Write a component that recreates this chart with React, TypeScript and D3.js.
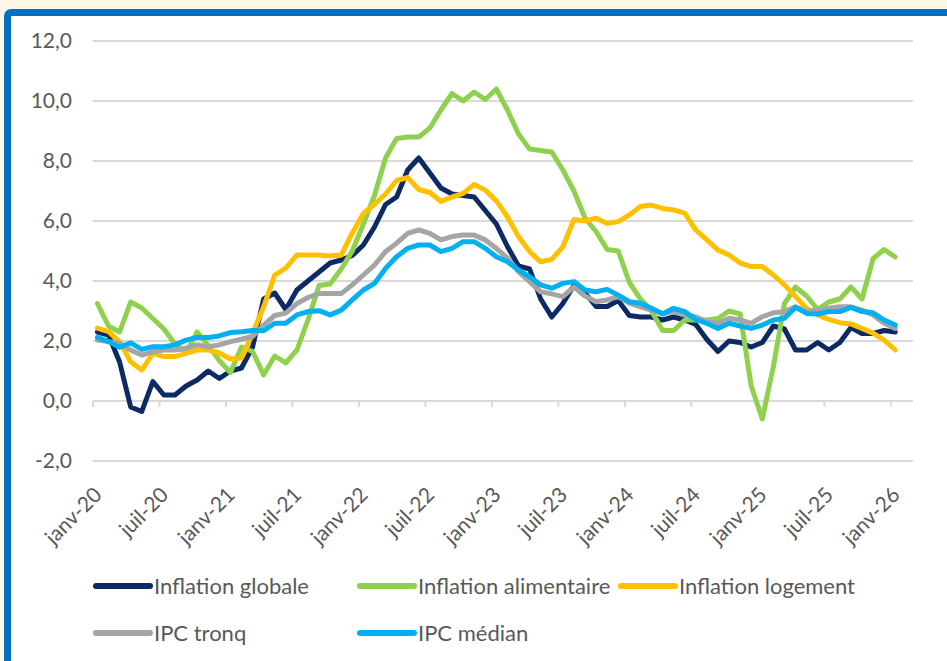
import * as d3 from 'd3';

const monthCount = 73; // janv-20 .. janv-26
const tickLabels = ['janv-20', 'juil-20', 'janv-21', 'juil-21', 'janv-22', 'juil-22', 'janv-23', 'juil-23', 'janv-24', 'juil-24', 'janv-25', 'juil-25', 'janv-26'];
const yTicks = [-2, 0, 2, 4, 6, 8, 10, 12];

const globale = [2.3, 2.2, 1.3, -0.2, -0.35, 0.65, 0.2, 0.2, 0.5, 0.7, 1.0, 0.75, 1.0, 1.1, 1.8, 3.4, 3.6, 3.05, 3.7, 4.0, 4.3, 4.6, 4.7, 4.85, 5.2, 5.8, 6.55, 6.8, 7.7, 8.1, 7.6, 7.1, 6.9, 6.85, 6.8, 6.35, 5.9, 5.15, 4.5, 4.4, 3.4, 2.8, 3.25, 3.85, 3.6, 3.15, 3.15, 3.35, 2.85, 2.8, 2.8, 2.7, 2.8, 2.7, 2.55, 2.05, 1.65, 2.0, 1.95, 1.8, 1.95, 2.5, 2.4, 1.7, 1.7, 1.95, 1.7, 1.95, 2.45, 2.25, 2.25, 2.35, 2.3];
const alimentaire = [3.25, 2.5, 2.3, 3.3, 3.1, 2.75, 2.4, 1.9, 1.6, 2.3, 1.85, 1.35, 0.95, 1.8, 1.65, 0.87, 1.5, 1.27, 1.7, 2.7, 3.85, 3.9, 4.4, 5.0, 5.9, 6.85, 8.1, 8.75, 8.8, 8.8, 9.1, 9.7, 10.25, 10.0, 10.3, 10.05, 10.4, 9.7, 8.9, 8.4, 8.35, 8.3, 7.7, 7.0, 6.1, 5.65, 5.05, 5.0, 3.95, 3.4, 3.0, 2.35, 2.35, 2.7, 2.7, 2.7, 2.75, 3.0, 2.9, 0.5, -0.6, 1.15, 3.25, 3.8, 3.5, 3.05, 3.3, 3.4, 3.8, 3.4, 4.75, 5.05, 4.8];
const logement = [2.43, 2.31, 1.98, 1.31, 1.03, 1.59, 1.48, 1.48, 1.59, 1.7, 1.7, 1.6, 1.4, 1.43, 2.25, 3.14, 4.2, 4.43, 4.87, 4.87, 4.87, 4.83, 4.87, 5.6, 6.25, 6.55, 6.9, 7.35, 7.45, 7.05, 6.95, 6.65, 6.8, 6.92, 7.22, 7.03, 6.67, 6.14, 5.48, 4.98, 4.64, 4.72, 5.14, 6.05, 6.0, 6.09, 5.92, 5.98, 6.2, 6.48, 6.53, 6.42, 6.37, 6.26, 5.7, 5.37, 5.03, 4.87, 4.6, 4.48, 4.48, 4.2, 3.87, 3.48, 3.09, 2.87, 2.72, 2.61, 2.57, 2.42, 2.26, 2.03, 1.7];
const tronq = [2.03, 1.98, 1.92, 1.7, 1.53, 1.64, 1.7, 1.7, 1.76, 1.87, 1.81, 1.87, 1.98, 2.06, 2.15, 2.53, 2.85, 2.93, 3.25, 3.45, 3.58, 3.58, 3.58, 3.87, 4.2, 4.53, 4.98, 5.26, 5.59, 5.7, 5.59, 5.37, 5.48, 5.53, 5.53, 5.37, 5.09, 4.76, 4.31, 3.98, 3.64, 3.57, 3.48, 3.8, 3.5, 3.31, 3.37, 3.48, 3.26, 3.14, 3.03, 2.92, 2.97, 2.87, 2.81, 2.64, 2.59, 2.76, 2.7, 2.59, 2.81, 2.94, 2.98, 3.14, 2.98, 3.03, 3.09, 3.14, 3.14, 3.03, 2.87, 2.59, 2.42];
const median = [2.12, 1.98, 1.79, 1.94, 1.72, 1.81, 1.81, 1.87, 2.03, 2.12, 2.12, 2.17, 2.28, 2.31, 2.35, 2.34, 2.59, 2.59, 2.87, 2.98, 3.01, 2.87, 3.03, 3.37, 3.7, 3.92, 4.42, 4.81, 5.09, 5.2, 5.2, 4.98, 5.09, 5.31, 5.31, 5.09, 4.81, 4.64, 4.37, 4.14, 3.87, 3.76, 3.92, 3.98, 3.7, 3.64, 3.72, 3.53, 3.31, 3.26, 3.09, 2.9, 3.09, 2.98, 2.72, 2.59, 2.42, 2.59, 2.5, 2.42, 2.53, 2.7, 2.76, 3.12, 2.92, 2.9, 2.98, 2.98, 3.12, 2.98, 2.94, 2.7, 2.53];

const series = [
  { name: 'Inflation globale', values: globale, color: '#0C2A64' },
  { name: 'Inflation alimentaire', values: alimentaire, color: '#8FD14F' },
  { name: 'Inflation logement', values: logement, color: '#FFC000' },
  { name: 'IPC tronq', values: tronq, color: '#A5A5A5' },
  { name: 'IPC médian', values: median, color: '#00B0F0' },
];

const W = 947;
const H = 661;
const FONT = 'Lato, "Open Sans", sans-serif';
const TXT = '#595959';

export default function App() {
  const x = d3.scaleLinear().domain([0, 74]).range([93, 913]);
  const y = d3.scaleLinear().domain([-2, 12]).range([461, 41]);

  const line = d3
    .line<number>()
    .x((_, i) => x(i + 0.4))
    .y((d) => y(d))
    .curve(d3.curveLinear);

  // legend: 3 per row
  const legendCols = [96, 360, 621];
  const legendRows = [586, 633];

  return (
    <div style={{ position: 'absolute', left: 0, top: 0 }}>
      <svg width={W} height={H} style={{ display: 'block', fontFamily: FONT }}>
        <rect x={0} y={0} width={W} height={H} fill="#FFF7E8" />
        <rect x={4} y={9} width={W + 40} height={H + 40} rx={7} fill="#0070C0" />
        <rect x={11} y={16} width={W + 40} height={H + 40} fill="#FFFFFF" />

        {/* gridlines */}
        {yTicks.map((t) => (
          <line key={t} x1={x(0)} x2={x(74)} y1={y(t)} y2={y(t)} stroke="#D9D9D9" strokeWidth={2} />
        ))}
        {/* tick marks on the 0 axis */}
        {tickLabels.map((_, k) => (
          <line key={k} x1={x(k * 6)} x2={x(k * 6)} y1={y(0)} y2={y(0) + 6} stroke="#D9D9D9" strokeWidth={2} />
        ))}

        {/* y labels */}
        {yTicks.map((t) => (
          <text key={t} x={72} y={y(t)} dy="0.35em" textAnchor="end" fontSize={21} fill={TXT}>
            {d3.format('.1f')(t).replace('.', ',').replace('−', '-')}
          </text>
        ))}

        {/* x labels */}
        {tickLabels.map((lab, k) => {
          const px = x(k * 6) + 5;
          const py = 491;
          return (
            <text key={lab} x={px} y={py} dy="0.35em" textAnchor="end" fontSize={21} fill={TXT} transform={`rotate(-45 ${px} ${py})`}>
              {lab}
            </text>
          );
        })}

        {/* lines */}
        {series.map((s) => (
          <path
            key={s.name}
            d={line(s.values.slice(0, monthCount)) || ''}
            fill="none"
            stroke={s.color}
            strokeWidth={5}
            strokeLinejoin="round"
            strokeLinecap="round"
          />
        ))}

        {/* legend */}
        {series.map((s, i) => {
          const lx = legendCols[i % 3];
          const ly = legendRows[Math.floor(i / 3)];
          return (
            <g key={s.name}>
              <line x1={lx} x2={lx + 54} y1={ly} y2={ly} stroke={s.color} strokeWidth={6} strokeLinecap="round" />
              <text x={lx + 58} y={ly} dy="0.35em" fontSize={22} fill={TXT}>
                {s.name}
              </text>
            </g>
          );
        })}
      </svg>
    </div>
  );
}
